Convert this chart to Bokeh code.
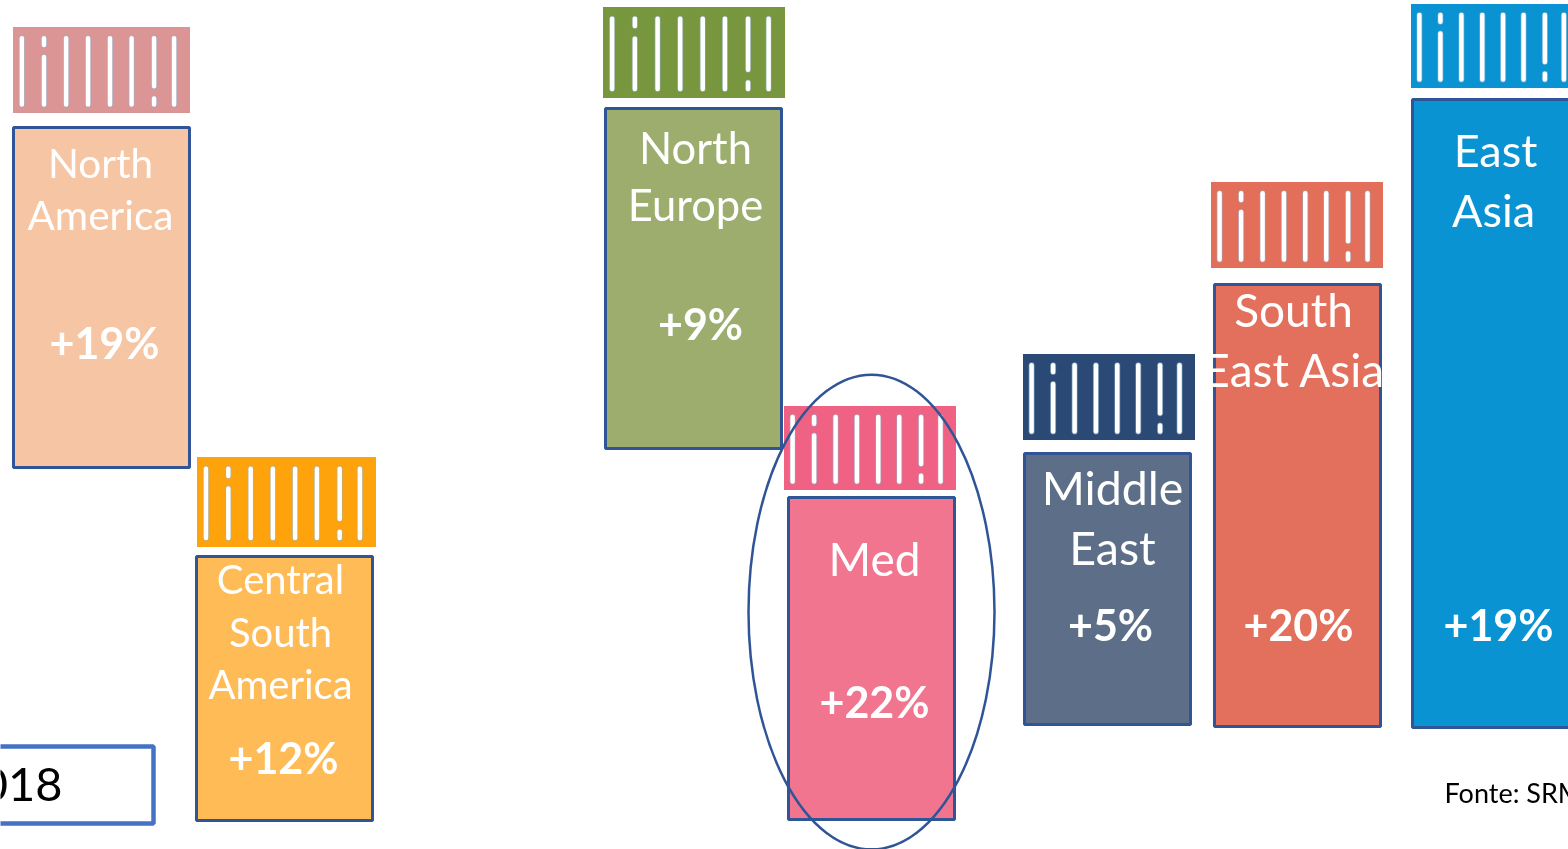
from bokeh.plotting import figure
from bokeh.models import Range1d
from bokeh.core.properties import value
from bokeh.embed import file_html
from bokeh.resources import INLINE

# Content
regions = ["North America", "Central South America", "North Europe", "Med",
           "Middle East", "South East Asia", "East Asia"]
growth = ["+19%", "+12%", "+9%", "+22%", "+5%", "+20%", "+19%"]
region_lines = [["North", "America"], ["Central", "South", "America"], ["North", "Europe"], ["Med"],
                ["Middle", "East"], ["South", "East Asia"], ["East", "Asia"]]
year_label = "2018"
source_label = "Fonte: SRM"

# Layout (page pixels)
box_left = [13, 196, 605, 788, 1024, 1214, 1412]
box_right = [189, 372, 781, 954, 1190, 1380, 1580]
box_top = [127, 556, 108, 497, 453, 284, 99]
box_bottom = [467, 820, 448, 819, 724, 726, 727]
icon_left = [12.5, 196.5, 602.5, 783.5, 1022.5, 1210.5, 1410.5]
icon_right = [189.5, 375.5, 784.5, 955.5, 1194.5, 1382.5, 1590]
icon_top = [26.5, 456.5, 6.5, 405.5, 353.5, 181.5, 3.5]
icon_bottom = [112.5, 546.5, 97.5, 489.5, 439.5, 267.5, 87.5]
box_fill = ["#F6C5A4", "#FFBB55", "#9CAD6E", "#F1758F", "#5D6F88", "#E3705C", "#0993D3"]
icon_fill = ["#DB9595", "#FFA30D", "#78963E", "#EF6284", "#2A4A75", "#E36F5A", "#0993D3"]
label_x = [[100, 100], [280, 280, 280], [695, 695], [874], [1112, 1112], [1293, 1294], [1495, 1493]]
label_y = [[162, 214], [578, 631, 683], [146, 203], [558], [486, 546], [309, 369], [149, 209]]
label_size = [40.5, 40, 43.5, 46, 46.5, 46, 45]
pct_x = [104, 283, 700, 874, 1110, 1298, 1498]
pct_y = [342, 757, 323, 701, 624, 624, 624]
pct_size = 43
stripe_frac = [.05, .175, .30, .424, .548, .67, .797, .91]
icon_widths = [177, 179, 182, 172, 172, 172, 168]

W, H = 1568, 849
p = figure(width=W, height=H, x_range=Range1d(0, W), y_range=Range1d(H, 0),
           output_backend="svg", toolbar_location=None, min_border=0)
p.styles = {"position": "fixed", "left": "0px", "top": "0px"}
p.axis.visible = False
p.grid.visible = False
p.outline_line_color = None
p.background_fill_color = "white"

BORDER = "#2F5597"
p.quad(left=icon_left, right=icon_right, top=icon_top, bottom=icon_bottom,
       fill_color=icon_fill, line_color=None)
p.quad(left=box_left, right=box_right, top=box_top, bottom=box_bottom,
       fill_color=box_fill, line_color=BORDER, line_width=3)

# container-door stripes
xs, ys = [], []
for l, w, t, b in zip(icon_left, icon_widths, icon_top, icon_bottom):
    h = b - t
    for i, f in enumerate(stripe_frac):
        x = l + w * f
        if i == 1:
            segs = [(.13, .21), (.35, .90)]
        elif i == 6:
            segs = [(.13, .69), (.83, .90)]
        else:
            segs = [(.13, .90)]
        for s0, s1 in segs:
            xs.append([x, x])
            ys.append([t + h * s0, t + h * s1])
p.multi_line(xs, ys, line_color="#8FB4CF", line_alpha=0.6, line_width=6, line_cap="round")
p.multi_line(xs, ys, line_color="white", line_width=4.5, line_cap="round")

font = value("Lato")
tx, ty, tt, ts = [], [], [], []
for xl, yl, lines, s in zip(label_x, label_y, region_lines, label_size):
    for x, y, t in zip(xl, yl, lines):
        tx.append(x); ty.append(y); tt.append(t); ts.append(f"{s}px")
p.text(tx, ty, text=tt, text_font=font, text_font_size=ts, text_color="white",
       text_align="center", text_baseline="middle")
p.text(pct_x, pct_y, text=growth, text_font=font, text_font_size=f"{pct_size}px", text_font_style="bold",
       text_color="white", text_align="center", text_baseline="middle")

# Highlight ellipse round Med
p.ellipse(x=[871], y=[611.5], width=[246], height=[475], fill_color=None, line_color=BORDER, line_width=2.5)

# Year box, running off the left edge
p.quad(left=[-10], right=[153], top=[746], bottom=[823], fill_color="white",
       line_color="#4472C4", line_width=4.5)
p.text([62], [784], text=[year_label], text_font=font, text_font_size="47px", text_color="black",
       text_align="right", text_baseline="middle")
p.text([1444], [792], text=[source_label], text_font=font, text_font_size="27px", text_color="black",
       text_align="left", text_baseline="middle")

open("out.html", "w").write(file_html(p, INLINE))
